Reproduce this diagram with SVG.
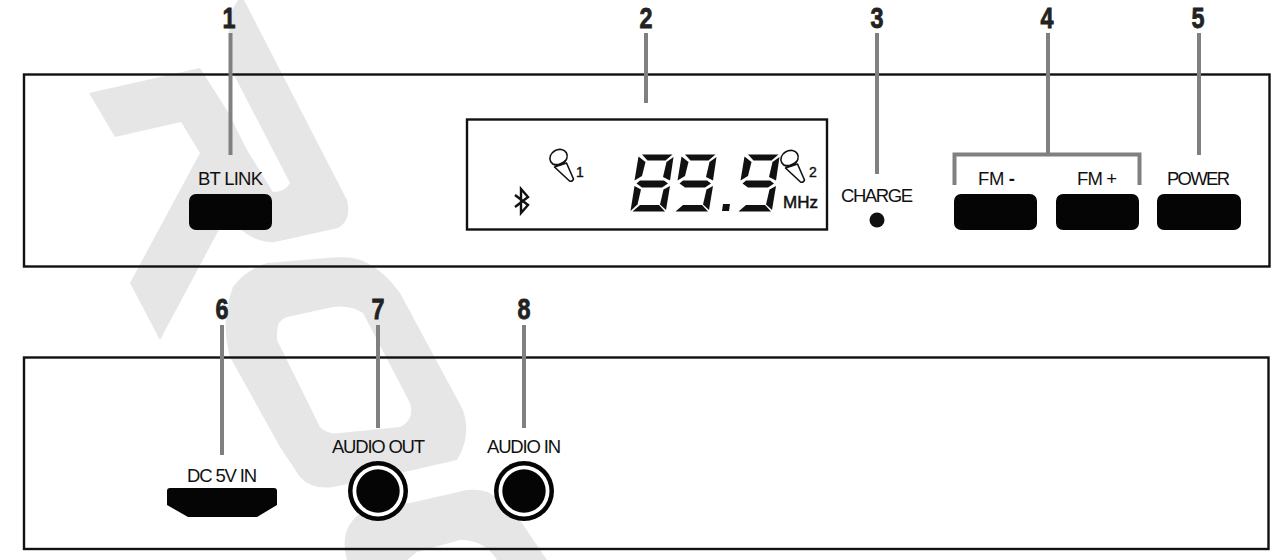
<svg xmlns="http://www.w3.org/2000/svg" xmlns:xlink="http://www.w3.org/1999/xlink" width="1280" height="560" viewBox="0 0 1280 560">
<style>
.wm{fill:#e6e6e6}
.panel{fill:none;stroke:#111;stroke-width:2.4}
.lead{fill:none;stroke:#808080;stroke-width:4}
.btn{fill:#050505}
.num{font:bold 29px "Liberation Sans",Arial,sans-serif;fill:#222;text-anchor:middle;stroke:#222;stroke-width:.8}
.lab{font:18.5px "Liberation Sans",Arial,sans-serif;fill:#111}
.mic{fill:#fff;stroke:#111;stroke-width:1.6;stroke-linejoin:round}
.sm{font:14px "Liberation Sans",Arial,sans-serif;fill:#111;stroke:#111;stroke-width:.4}
.seg{fill:#111}
</style>
<defs>
<g id="seg-common">
<polygon class="seg" points="17,9.500 47.500,9.500 40.500,15.500 22.500,15.500"/>
<polygon class="seg" points="13.500,11.500 20.500,17 17,31 9.500,35.500"/>
<polygon class="seg" points="48.500,12 41.500,17 38,32 45,35.500"/>
<polygon class="seg" points="15,35.500 39,35.500 43,38.500 37,42.500 17,42.500 11.500,38.500"/>
<polygon class="seg" points="45,41 38.500,44.500 35,59.500 41,65"/>
<polygon class="seg" points="7.500,66.500 15,60 34,60 40,66.500"/>
</g>
<g id="mic">
<path class="mic" d="M-4.500,10 L10.500,24 Q13.500,25 14.500,22 L7.500,6Z"/>
<ellipse class="mic" cx="-0.500" cy="0" rx="9" ry="7.500" transform="rotate(-30)"/>
<path class="mic" d="M-5,7.500 Q1,8.500 7,3" style="fill:none"/>
</g>
</defs>
<g id="watermark">
<path class="wm" d="M89,93 L200,68 L228,112 L247,150 L273,192 Q285,192 290,183 L233,73 L229,60 L229,15 L238,0 L244,0 L347,200 Q352,220 338,228 L275,242 Q262,243 250,236 L232,224 L222,224 L160,340 L130,283 L200,153 L181,122 L115,137Z"/>
<path class="wm" fill-rule="evenodd" d="M233,287 Q245,270 267,263 L327,258 Q355,255 367,263 Q385,272 400,293 L463,410 Q472,435 457,460 L400,473 L333,487 Q312,490 300,477 L280,447 L230,357 Q220,320 233,287Z M277,333 L277,340 L320,427 Q328,435 340,433 L400,427 Q415,420 410,403 L363,313 Q350,305 333,307 L287,317 Q277,320 277,333Z"/>
<path class="wm" d="M347,560 Q340,535 353,520 Q365,505 410,503 L467,490 Q490,488 497,500 L513,510 L547,560 L497,560 Q485,540 460,540 L417,552 L407,560Z"/>
</g>
<g id="panels">
<rect id="front-panel" class="panel" x="24" y="74.500" width="1245.500" height="192"/>
<rect id="rear-panel" class="panel" x="24" y="357.500" width="1244.500" height="191.500"/>
</g>
<g id="connectors">
<path class="lead" d="M230.500,33V155"/>
<path class="lead" d="M646,33V103"/>
<path class="lead" d="M877,33V174"/>
<path class="lead" d="M1048,33V154"/>
<path class="lead" d="M954.500,185V154.500H1139.500V185"/>
<path class="lead" d="M1199,33V155"/>
<path class="lead" d="M222,325V455"/>
<path class="lead" d="M378,325V428"/>
<path class="lead" d="M524,325V428"/>
</g>
<g id="callouts">
<text class="num" x="229" y="28" textLength="13" lengthAdjust="spacingAndGlyphs">1</text>
<text class="num" x="646" y="28" textLength="13" lengthAdjust="spacingAndGlyphs">2</text>
<text class="num" x="877" y="28" textLength="13" lengthAdjust="spacingAndGlyphs">3</text>
<text class="num" x="1047" y="28" textLength="13" lengthAdjust="spacingAndGlyphs">4</text>
<text class="num" x="1198" y="28" textLength="13" lengthAdjust="spacingAndGlyphs">5</text>
<text class="num" x="222" y="319" textLength="13" lengthAdjust="spacingAndGlyphs">6</text>
<text class="num" x="378" y="319" textLength="13" lengthAdjust="spacingAndGlyphs">7</text>
<text class="num" x="524" y="319" textLength="13" lengthAdjust="spacingAndGlyphs">8</text>
</g>
<g id="bt-link">
<text class="lab" x="198" y="185" textLength="65">BT LINK</text>
<rect class="btn" x="189" y="194" width="83" height="36" rx="7"/>
</g>
<g id="lcd">
<rect x="467" y="119.500" width="360" height="110" fill="#fff" stroke="#111" stroke-width="2.400"/>
<path d="M515,195L528,205L521,213V189L528,197L515,207" fill="none" stroke="#111" stroke-width="2.400"/>
<use xlink:href="#mic" href="#mic" transform="translate(559,157)"/>
<text class="sm" x="576" y="177">1</text>
<use xlink:href="#mic" href="#mic" transform="translate(790,158)"/>
<text class="sm" x="809" y="177">2</text>
<use xlink:href="#seg-common" href="#seg-common" transform="translate(625,145)"/>
<polygon class="seg" points="634.500,186 641,189.500 637.500,204.500 630.500,211"/>
<use xlink:href="#seg-common" href="#seg-common" transform="translate(668,145)"/>
<polygon class="seg" points="723,204 730,204 729,211 722,211"/>
<use xlink:href="#seg-common" href="#seg-common" transform="translate(731,145)"/>
<text class="sm" x="783" y="208" style="font-size:17px;stroke-width:.5" textLength="35">MHz</text>
</g>
<g id="charge">
<text class="lab" x="841" y="202" textLength="72">CHARGE</text>
<circle cx="877" cy="220" r="7.500" fill="#111"/>
</g>
<g id="fm-minus">
<text class="lab" x="978" y="185" textLength="37">FM <tspan font-weight="bold">-</tspan></text>
<rect class="btn" x="954" y="194" width="83" height="36" rx="7"/>
</g>
<g id="fm-plus">
<text class="lab" x="1077" y="185" textLength="40">FM +</text>
<rect class="btn" x="1056" y="194" width="83" height="36" rx="7"/>
</g>
<g id="power">
<text class="lab" x="1167" y="185" textLength="63">POWER</text>
<rect class="btn" x="1157" y="194" width="84" height="36" rx="7"/>
</g>
<g id="dc-in">
<text class="lab" x="187" y="482" textLength="70">DC 5V IN</text>
<path class="btn" d="M170,488H274Q277,488 277,491V505L257,517H188L167,505V491Q167,488 170,488Z"/>
</g>
<g id="audio-out">
<text class="lab" x="332" y="453" textLength="93">AUDIO OUT</text>
<circle cx="378" cy="491" r="30" fill="#050505"/>
<circle cx="378" cy="491" r="25.500" fill="#fff"/>
<circle cx="378" cy="491" r="21.700" fill="#050505"/>
</g>
<g id="audio-in">
<text class="lab" x="487" y="453" textLength="74">AUDIO IN</text>
<circle cx="524" cy="491" r="30" fill="#050505"/>
<circle cx="524" cy="491" r="25.500" fill="#fff"/>
<circle cx="524" cy="491" r="21.700" fill="#050505"/>
</g>
</svg>
